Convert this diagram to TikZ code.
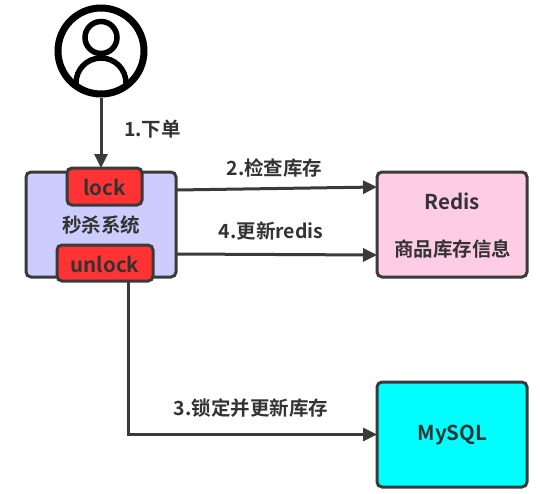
\documentclass[tikz,border=0pt]{standalone}
\usepackage{fontspec}
\setmainfont{Noto Sans CJK SC}[BoldFont={Noto Sans CJK SC Bold}]
\usetikzlibrary{arrows.meta,calc}
\definecolor{ink}{HTML}{3A3A3A}
\definecolor{txt}{HTML}{333333}
\definecolor{mainfill}{HTML}{CCCCFF}
\definecolor{pinkfill}{HTML}{FFCCE6}
\definecolor{redfill}{HTML}{FF3333}
\definecolor{cyanfill}{HTML}{00FFFF}
\tikzset{
  boxa/.style={draw=ink,line width=3pt,rounded corners=5pt,inner sep=0pt,outer sep=0pt},
  lab/.style={text=txt,font=\fontsize{19.5}{23}\selectfont\bfseries,inner sep=0pt},
  big/.style={text=txt,font=\fontsize{20.5}{23}\selectfont\bfseries,inner sep=0pt},
  conn/.style={draw=ink,line width=3pt,-{Triangle[length=14pt,width=13pt]}}
}
\begin{document}
\begin{tikzpicture}[x=1pt,y=-1pt]
\useasboundingbox (0,0) rectangle (540,493);
% person icon
\begin{scope}
  \clip (101,51) circle (44);
  \draw[line width=5.5pt] (76,92) -- (76,83) arc[start angle=180,end angle=360,x radius=25,y radius=25] -- (126,92);
\end{scope}
\draw[line width=5.5pt] (101,37.5) circle (16);
\node[circle,draw=black,line width=7pt,minimum size=86pt,inner sep=0pt,outer sep=3.5pt] (user) at (101,51) {};
% boxes
\node[boxa,fill=mainfill,minimum width=150pt,minimum height=105pt] (main) at (101,224.5) {};
\node[boxa,minimum width=150pt,minimum height=105pt,fill=pinkfill] (redis) at (452,224.5) {};
\node[boxa,minimum width=150pt,minimum height=105pt,fill=cyanfill] (mysql) at (452,434.5) {};
\node[boxa,fill=redfill,minimum width=75pt,minimum height=37pt] (lock) at (104.5,186.5) {};
\node[boxa,fill=redfill,minimum width=96pt,minimum height=36pt] (unlock) at (105,263) {};
\node[big] (lockt) at (104.5,187.5) {lock};
\node[big] (unlockt) at (105,264) {unlock};
\node[big] (mysqlt) at (452.5,435) {MySQL};
\node[lab] (sys) at (101,225.5) {秒杀系统};
\node[big] (redist) at (452.5,201) {Redis};
\node[lab] (redisi) at (452.5,249.5) {商品库存信息};
% connectors
\draw[conn] (user.south) -- (user.south |- lock.north);
\draw[conn] ($(main.north east)+(0,18)$) -- ($(redis.north west)+(0,15)$);
\draw[conn] ($(main.south east)+(0,-23)$) -- ($(redis.south west)+(0,-22)$);
\coordinate (drop) at ($(unlock.south west)+(71,0)$);
\draw[conn] (drop) |- (mysql.west);
% labels
\node[lab] (l1) at (152.5,129) {1.下单};
\node[lab] (l2) at (274.5,168.5) {2.检查库存};
\node[lab] (l4) at (271,231) {4.更新redis};
\node[lab] (l3) at (251,408.5) {3.锁定并更新库存};
\end{tikzpicture}
\end{document}
